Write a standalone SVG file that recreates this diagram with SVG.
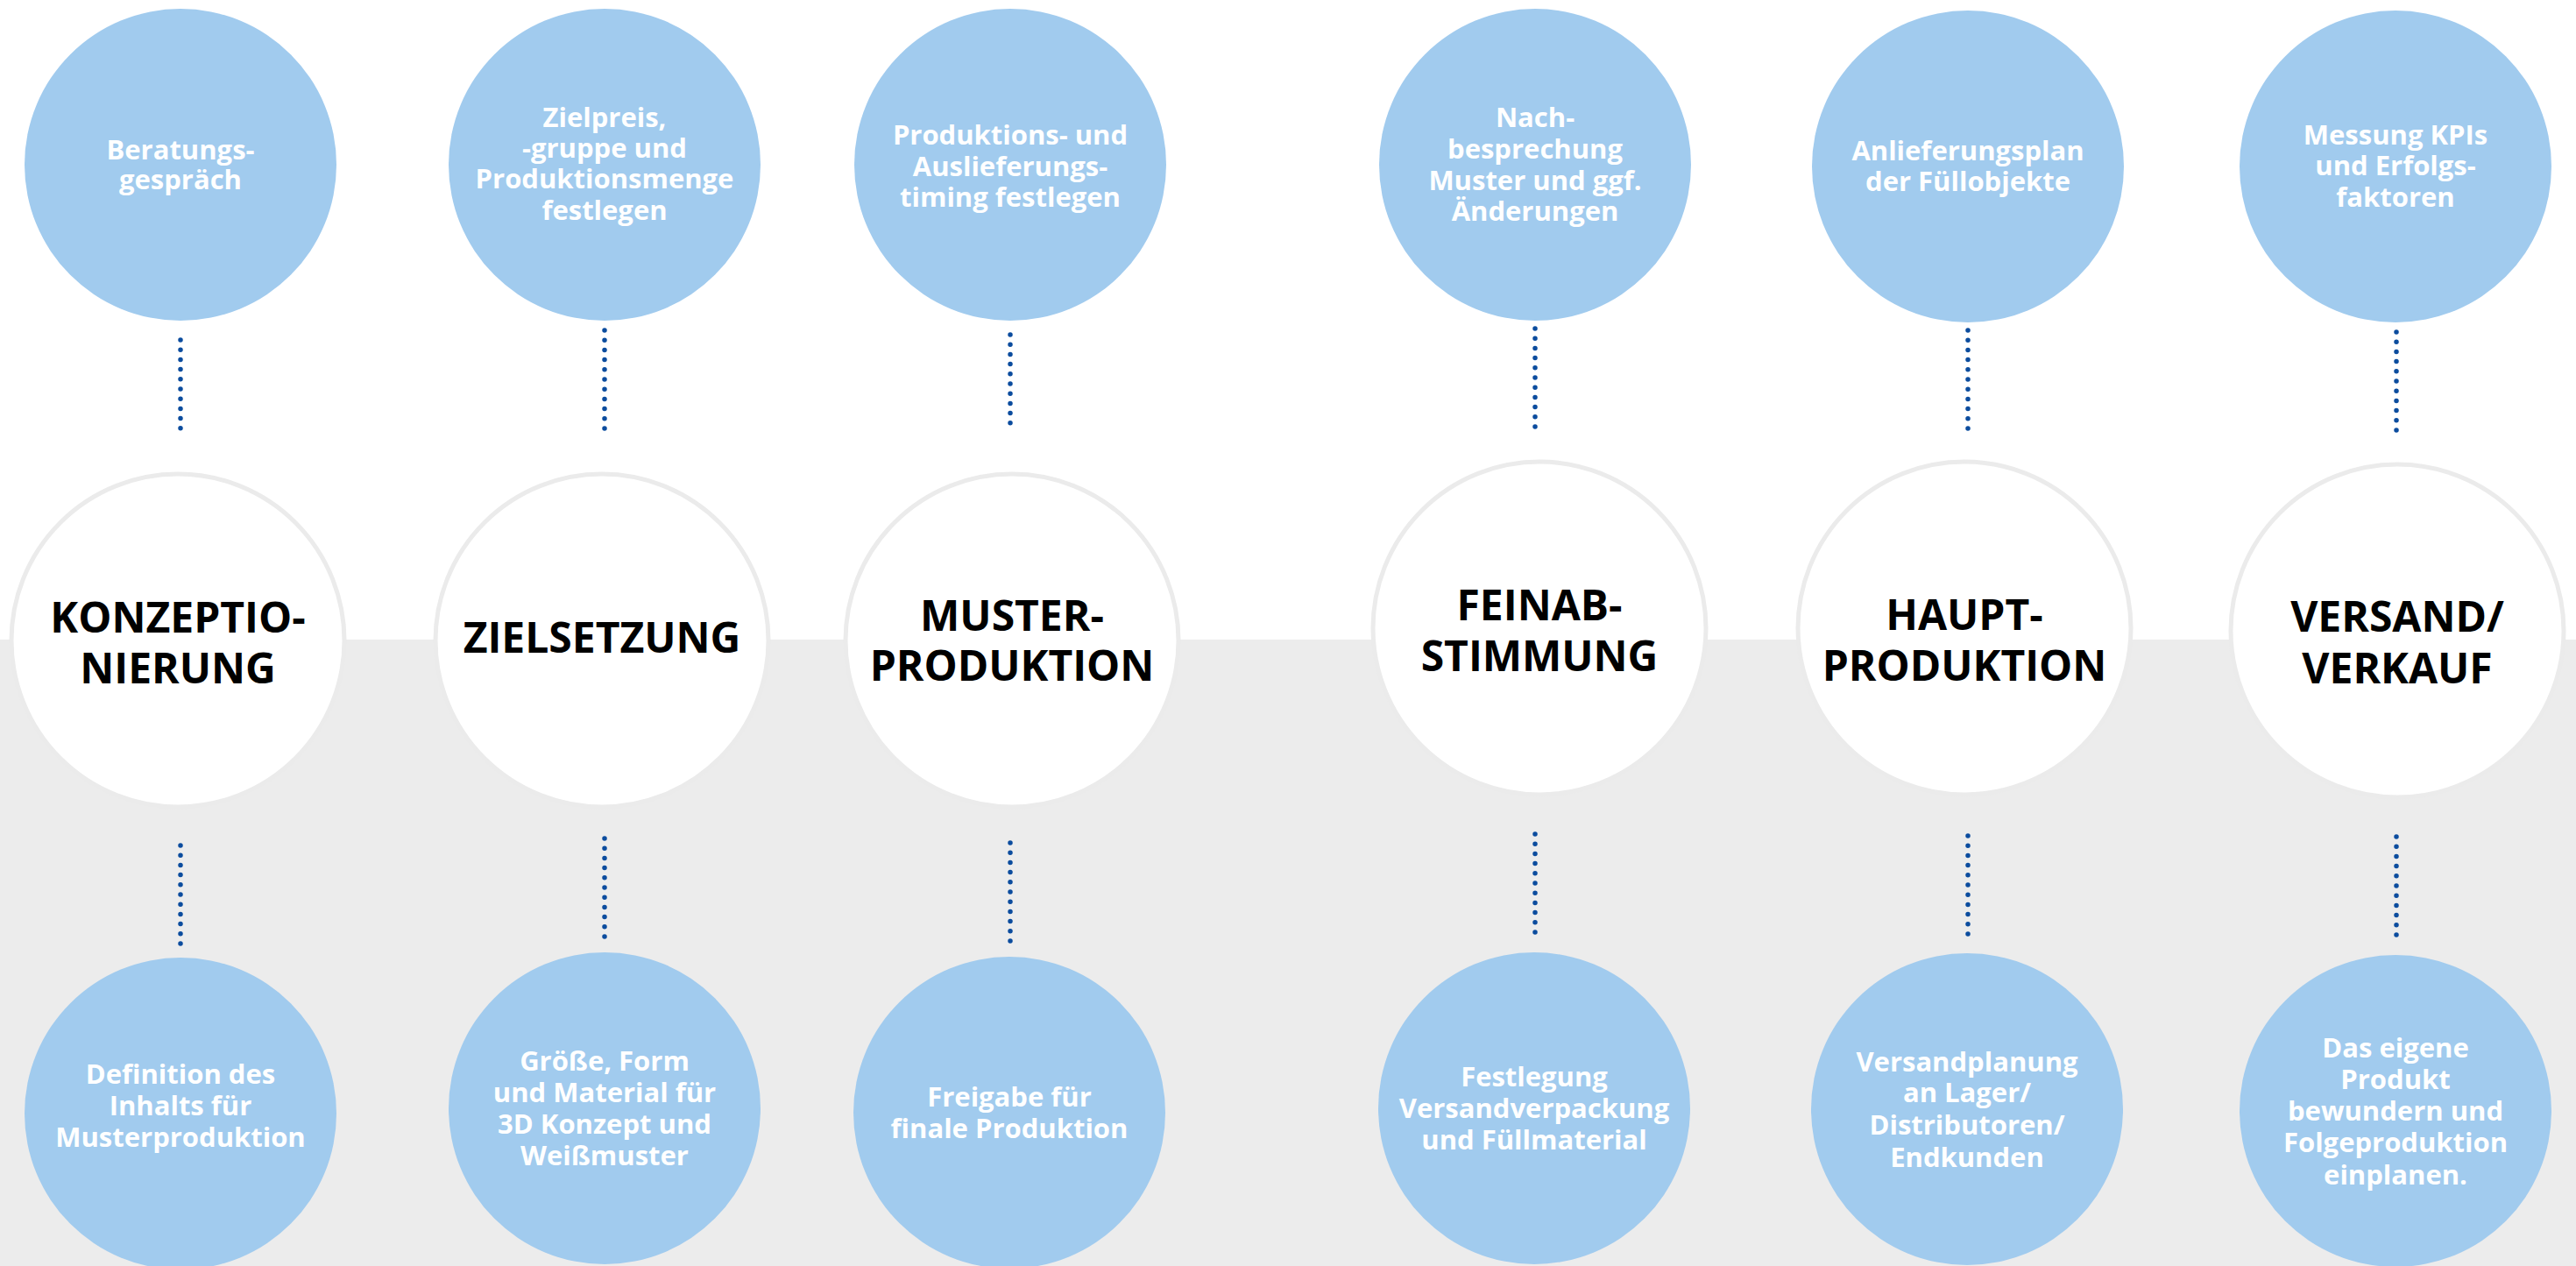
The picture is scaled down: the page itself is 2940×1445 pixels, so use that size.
<svg xmlns="http://www.w3.org/2000/svg" width="2940" height="1445" viewBox="0 0 2940 1445">
<style>
.blue{fill:#a1cbee}
.ring{fill:#ffffff;stroke:#ebebeb;stroke-width:5}
.t{font-family:"Open Sans","Noto Sans","Liberation Sans",sans-serif;font-weight:700;fill:#ffffff;font-size:31px;text-anchor:middle}
.h{font-family:"Open Sans","Noto Sans","Liberation Sans",sans-serif;font-weight:700;fill:#000000;font-size:48px;text-anchor:middle}
.dot{stroke:#0b4c9e;stroke-width:5.5;stroke-linecap:round;stroke-dasharray:0 11.2;fill:none}
</style>
<rect x="0" y="0" width="2940" height="1445" fill="#ffffff"/>
<rect x="0" y="730" width="2940" height="715" fill="#ececec"/>
<g id="connectors">
<line class="dot" x1="206" y1="388" x2="206" y2="499"/>
<line class="dot" x1="206" y1="965" x2="206" y2="1085"/>
<line class="dot" x1="690" y1="377" x2="690" y2="499"/>
<line class="dot" x1="690" y1="957" x2="690" y2="1073"/>
<line class="dot" x1="1153" y1="382" x2="1153" y2="491"/>
<line class="dot" x1="1153" y1="962" x2="1153" y2="1077"/>
<line class="dot" x1="1752" y1="375" x2="1752" y2="487"/>
<line class="dot" x1="1752" y1="952" x2="1752" y2="1074"/>
<line class="dot" x1="2246" y1="377" x2="2246" y2="489"/>
<line class="dot" x1="2246" y1="954" x2="2246" y2="1076"/>
<line class="dot" x1="2735" y1="379" x2="2735" y2="492"/>
<line class="dot" x1="2735" y1="955" x2="2735" y2="1078"/>
</g>
<g id="top1"><circle class="blue" cx="206" cy="188" r="178"/><text class="t"><tspan x="206" y="182">Beratungs-</tspan><tspan x="206" y="216">gespräch</tspan></text></g>
<g id="top2"><circle class="blue" cx="690" cy="188" r="178"/><text class="t"><tspan x="690" y="145">Zielpreis,</tspan><tspan x="690" y="180">-gruppe und</tspan><tspan x="690" y="215">Produktionsmenge</tspan><tspan x="690" y="251">festlegen</tspan></text></g>
<g id="top3"><circle class="blue" cx="1153" cy="188" r="178"/><text class="t"><tspan x="1153" y="165">Produktions- und</tspan><tspan x="1153" y="201">Auslieferungs-</tspan><tspan x="1153" y="236">timing festlegen</tspan></text></g>
<g id="top4"><circle class="blue" cx="1752" cy="188" r="178"/><text class="t"><tspan x="1752" y="145">Nach-</tspan><tspan x="1752" y="181">besprechung</tspan><tspan x="1752" y="217">Muster und ggf.</tspan><tspan x="1752" y="252">Änderungen</tspan></text></g>
<g id="top5"><circle class="blue" cx="2246" cy="190" r="178"/><text class="t"><tspan x="2246" y="183">Anlieferungsplan</tspan><tspan x="2246" y="218">der Füllobjekte</tspan></text></g>
<g id="top6"><circle class="blue" cx="2734" cy="190" r="178"/><text class="t"><tspan x="2734" y="165">Messung KPIs</tspan><tspan x="2734" y="200">und Erfolgs-</tspan><tspan x="2734" y="236">faktoren</tspan></text></g>
<g id="step1"><circle class="ring" cx="203" cy="731" r="190"/><text class="h"><tspan x="203" y="722">KONZEPTIO-</tspan><tspan x="203" y="780">NIERUNG</tspan></text></g>
<g id="step2"><circle class="ring" cx="687" cy="731" r="190"/><text class="h" x="687" y="745">ZIELSETZUNG</text></g>
<g id="step3"><circle class="ring" cx="1155" cy="731" r="190"/><text class="h"><tspan x="1155" y="720">MUSTER-</tspan><tspan x="1155" y="777">PRODUKTION</tspan></text></g>
<g id="step4"><circle class="ring" cx="1757" cy="717" r="190"/><text class="h"><tspan x="1757" y="708">FEINAB-</tspan><tspan x="1757" y="766">STIMMUNG</tspan></text></g>
<g id="step5"><circle class="ring" cx="2242" cy="717" r="190"/><text class="h"><tspan x="2242" y="719">HAUPT-</tspan><tspan x="2242" y="777">PRODUKTION</tspan></text></g>
<g id="step6"><circle class="ring" cx="2736" cy="720" r="190"/><text class="h"><tspan x="2736" y="721">VERSAND/</tspan><tspan x="2736" y="780">VERKAUF</tspan></text></g>
<g id="bottom1"><circle class="blue" cx="206" cy="1271" r="178"/><text class="t"><tspan x="206" y="1237">Definition des</tspan><tspan x="206" y="1273">Inhalts für</tspan><tspan x="206" y="1309">Musterproduktion</tspan></text></g>
<g id="bottom2"><circle class="blue" cx="690" cy="1265" r="178"/><text class="t"><tspan x="690" y="1222">Größe, Form</tspan><tspan x="690" y="1258">und Material für</tspan><tspan x="690" y="1294">3D Konzept und</tspan><tspan x="690" y="1330">Weißmuster</tspan></text></g>
<g id="bottom3"><circle class="blue" cx="1152" cy="1270" r="178"/><text class="t"><tspan x="1152" y="1263">Freigabe für</tspan><tspan x="1152" y="1299">finale Produktion</tspan></text></g>
<g id="bottom4"><circle class="blue" cx="1751" cy="1265" r="178"/><text class="t"><tspan x="1751" y="1240">Festlegung</tspan><tspan x="1751" y="1276">Versandverpackung</tspan><tspan x="1751" y="1312">und Füllmaterial</tspan></text></g>
<g id="bottom5"><circle class="blue" cx="2245" cy="1266" r="178"/><text class="t"><tspan x="2245" y="1223">Versandplanung</tspan><tspan x="2245" y="1258">an Lager/</tspan><tspan x="2245" y="1295">Distributoren/</tspan><tspan x="2245" y="1332">Endkunden</tspan></text></g>
<g id="bottom6"><circle class="blue" cx="2734" cy="1268" r="178"/><text class="t"><tspan x="2734" y="1207">Das eigene</tspan><tspan x="2734" y="1243">Produkt</tspan><tspan x="2734" y="1279">bewundern und</tspan><tspan x="2734" y="1315">Folgeproduktion</tspan><tspan x="2734" y="1352">einplanen.</tspan></text></g>
</svg>
